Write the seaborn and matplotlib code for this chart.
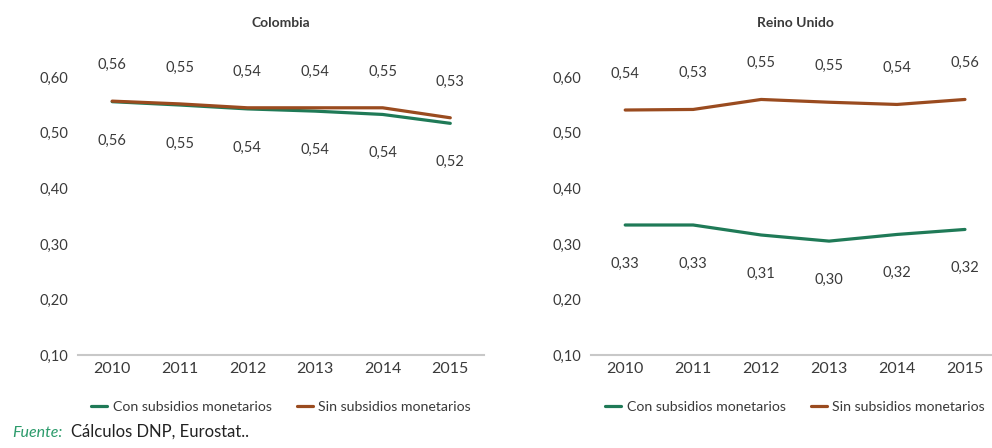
import matplotlib
matplotlib.use("Agg")
import matplotlib.pyplot as plt
from matplotlib.lines import Line2D
import seaborn as sns
import pandas as pd

years = ["2010", "2011", "2012", "2013", "2014", "2015"]

col_con = [0.556, 0.550, 0.543, 0.539, 0.533, 0.517]
col_sin = [0.557, 0.552, 0.545, 0.545, 0.545, 0.527]
col_con_labels = ["0,56", "0,55", "0,54", "0,54", "0,54", "0,52"]
col_sin_labels = ["0,56", "0,55", "0,54", "0,54", "0,55", "0,53"]

uk_con = [0.334, 0.334, 0.316, 0.305, 0.317, 0.326]
uk_sin = [0.541, 0.542, 0.560, 0.555, 0.551, 0.560]
uk_con_labels = ["0,33", "0,33", "0,31", "0,30", "0,32", "0,32"]
uk_sin_labels = ["0,54", "0,53", "0,55", "0,55", "0,54", "0,56"]

yticks = [0.1, 0.2, 0.3, 0.4, 0.5, 0.6]
ytick_labels = ["0,10", "0,20", "0,30", "0,40", "0,50", "0,60"]

series = ["Con subsidios monetarios", "Sin subsidios monetarios"]
GREEN = "#1f7a57"
BROWN = "#9a4b1f"
TEXT = "#3a3a3a"

sns.set_theme(style="white")
plt.rcParams["font.family"] = ["Lato", "DejaVu Sans"]


def panel(ax, title, con, sin, con_lab, sin_lab):
    df = pd.DataFrame({
        "idx": list(range(len(years))) * 2,
        "valor": con + sin,
        "serie": [series[0]] * len(years) + [series[1]] * len(years),
    })
    sns.lineplot(data=df, x="idx", y="valor", hue="serie",
                 palette=[GREEN, BROWN], linewidth=2.3, legend=False, ax=ax)
    for i in range(len(years)):
        ax.annotate(sin_lab[i], (i, sin[i]), xytext=(0, 26), textcoords="offset points",
                    ha="center", va="center", fontsize=10.5, color=TEXT, annotation_clip=False)
        ax.annotate(con_lab[i], (i, con[i]), xytext=(0, -28), textcoords="offset points",
                    ha="center", va="center", fontsize=10.5, color=TEXT, annotation_clip=False)
    ax.set_xlim(-0.5, 5.5)
    ax.set_ylim(0.1, 0.6)
    ax.set_xticks(range(len(years)))
    ax.set_xticklabels(years, fontsize=11.5, color=TEXT)
    ax.set_yticks(yticks)
    ax.set_yticklabels(ytick_labels, fontsize=10.5, color=TEXT)
    ax.tick_params(axis="y", length=0, pad=7)
    ax.tick_params(axis="x", length=0, pad=5)
    ax.set_xlabel("")
    ax.set_ylabel("")
    for s in ["top", "right", "left"]:
        ax.spines[s].set_visible(False)
    ax.spines["bottom"].set_color("#c8c8c8")
    ax.spines["bottom"].set_linewidth(1.5)
    ax.set_title(title, fontsize=10, fontweight="bold", color=TEXT, pad=36)
    handles = [Line2D([], [], color=GREEN, lw=2.3), Line2D([], [], color=BROWN, lw=2.3)]
    ax.legend(handles, series, loc="upper center", bbox_to_anchor=(0.5, -0.12),
              ncol=2, frameon=False, fontsize=10.2, handlelength=1.1,
              handletextpad=0.4, columnspacing=1.8, labelcolor=TEXT)


fig = plt.figure(figsize=(9.92, 4.48), dpi=100)
ax1 = fig.add_axes([0.079, 0.2076, 0.409, 0.62])
ax2 = fig.add_axes([0.596, 0.2076, 0.411, 0.62])

panel(ax1, "Colombia", col_con, col_sin, col_con_labels, col_sin_labels)
panel(ax2, "Reino Unido", uk_con, uk_sin, uk_con_labels, uk_sin_labels)

fig.text(0.012, 0.025, "Fuente:", fontsize=11.5, style="italic", color="#2a9a6a")
fig.text(0.072, 0.025, "Cálculos DNP, Eurostat..", fontsize=12, color="#222222")

fig.savefig("out.png", dpi=100)
